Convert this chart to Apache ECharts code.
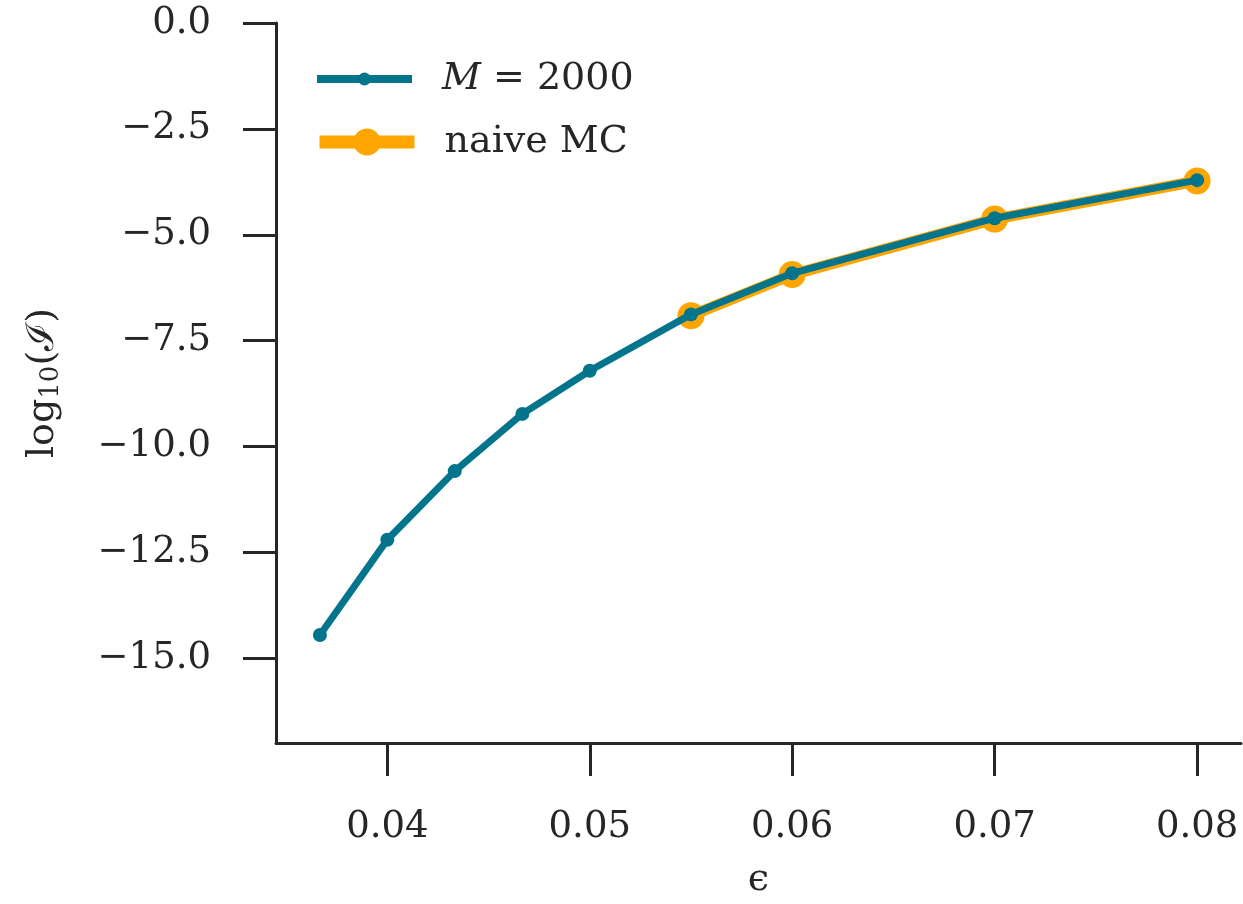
<!DOCTYPE html>
<html>
<head>
<meta charset="utf-8">
<title>log10(I) versus epsilon</title>
<script src="https://cdn.jsdelivr.net/npm/echarts@6/dist/echarts.min.js"></script>
<style>
  html, body { margin: 0; padding: 0; background: #ffffff; }
  #chart { width: 1243px; height: 904px; }
</style>
</head>
<body>
<div id="chart"></div>
<script>
// epsilon values for the importance-sampling estimator (M = 2000)
const epsM2000 = [0.03667, 0.04, 0.04333, 0.04667, 0.05, 0.055, 0.06, 0.07, 0.08];
const logIM2000 = [-14.45, -12.20, -10.58, -9.23, -8.21, -6.88, -5.91, -4.61, -3.71];

// epsilon values where plain Monte Carlo still gives an estimate
const epsNaive = [0.055, 0.06, 0.07, 0.08];
const logINaive = [-6.91, -5.94, -4.63, -3.73];

const xTicks = [0.04, 0.05, 0.06, 0.07, 0.08];
const yTicks = [0, -2.5, -5, -7.5, -10, -12.5, -15];

const TEAL = '#02748C';
const ORANGE = '#FFA500';
const INK = '#262626';
const SERIF = '"DejaVu Serif", "Liberation Serif", serif';

const pairs = (xs, ys) => xs.map((x, i) => [x, ys[i]]);
const minus = s => s.replace('-', '\u2212');

const chart = echarts.init(document.getElementById('chart'), null, { renderer: 'canvas' });

chart.setOption({
  backgroundColor: '#ffffff',
  animation: false,
  grid: { left: 276, right: 2, top: 23, bottom: 154 },
  xAxis: {
    type: 'value',
    min: 0.0345,
    max: 0.08217,
    name: '\u03F5',
    nameLocation: 'middle',
    nameGap: 118,
    nameTextStyle: { fontFamily: SERIF, fontSize: 38, color: INK },
    splitLine: { show: false },
    axisLine: { onZero: false, lineStyle: { color: INK, width: 3 } },
    axisTick: { show: true, length: 33, customValues: xTicks, lineStyle: { color: INK, width: 3 } },
    axisLabel: {
      customValues: xTicks,
      margin: 66,
      fontFamily: SERIF, fontSize: 37, color: INK,
      formatter: v => v.toFixed(2)
    }
  },
  yAxis: {
    type: 'value',
    min: -17,
    max: 0,
    name: '{t|log}{s|10}{t|(\u2110)}',
    nameLocation: 'middle',
    nameRotate: 90,
    nameGap: 212,
    nameTextStyle: {
      color: INK,
      rich: {
        t: { fontFamily: SERIF, fontSize: 38, color: INK },
        s: { fontFamily: SERIF, fontSize: 26, color: INK, padding: [16, 0, 0, 0] }
      }
    },
    splitLine: { show: false },
    axisLine: { onZero: false, lineStyle: { color: INK, width: 3 } },
    axisTick: { show: true, length: 33, customValues: yTicks, lineStyle: { color: INK, width: 3 } },
    axisLabel: {
      customValues: yTicks,
      margin: 65,
      fontFamily: SERIF, fontSize: 37, color: INK,
      formatter: v => minus(v.toFixed(1))
    }
  },
  legend: [
    {
      data: ['M = 2000'],
      left: 313, top: 60,
      padding: 0,
      itemWidth: 95, itemHeight: 16,
      lineStyle: { width: 8 },
      formatter: () => '{i|M}{r| = 2000}',
      textStyle: {
        padding: [0, 0, 0, 25],
        rich: {
          i: { fontFamily: SERIF, fontStyle: 'italic', fontSize: 38, color: INK },
          r: { fontFamily: SERIF, fontSize: 38, color: INK }
        }
      }
    },
    {
      data: ['naive MC'],
      left: 313, top: 123,
      padding: 0,
      itemWidth: 95, itemHeight: 34,
      lineStyle: { width: 13 },
      textStyle: { fontFamily: SERIF, fontSize: 38, color: INK, padding: [0, 0, 0, 25] }
    }
  ],
  series: [
    {
      name: 'naive MC',
      type: 'line',
      data: pairs(epsNaive, logINaive),
      symbol: 'circle',
      symbolSize: 27,
      showAllSymbol: true,
      itemStyle: { color: ORANGE },
      lineStyle: { color: ORANGE, width: 11 },
      z: 2
    },
    {
      name: 'M = 2000',
      type: 'line',
      data: pairs(epsM2000, logIM2000),
      symbol: 'circle',
      symbolSize: 14,
      showAllSymbol: true,
      itemStyle: { color: TEAL },
      lineStyle: { color: TEAL, width: 7 },
      z: 3
    }
  ]
});
</script>
</body>
</html>
